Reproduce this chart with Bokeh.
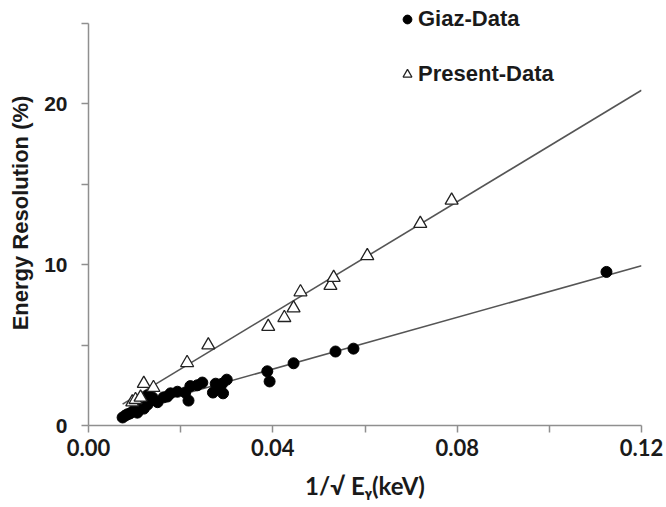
from bokeh.plotting import figure
from bokeh.models import (FixedTicker, NumeralTickFormatter, Range1d, Legend, LegendItem)
from bokeh.embed import file_html
from bokeh.resources import INLINE

# ---- data ----
giaz_x = [0.0074, 0.0080, 0.0085, 0.0090, 0.0098, 0.0106, 0.0113, 0.0120, 0.0128, 0.0128,
          0.0135, 0.0139, 0.0150, 0.0163, 0.0171, 0.0178, 0.0193, 0.0210, 0.0217, 0.0221,
          0.0236, 0.0247, 0.0270, 0.0276, 0.0283, 0.0290, 0.0292, 0.0300, 0.0388, 0.0393,
          0.0445, 0.0536, 0.0575, 0.1124]
giaz_y = [0.50, 0.62, 0.70, 0.75, 0.93, 0.80, 1.12, 1.05, 1.30, 1.86,
          1.55, 1.74, 1.45, 1.75, 1.80, 2.00, 2.10, 2.05, 1.55, 2.45,
          2.50, 2.67, 2.05, 2.60, 2.36, 2.60, 2.00, 2.85, 3.37, 2.74,
          3.87, 4.60, 4.78, 9.55]

present_x = [0.0095, 0.0102, 0.0113, 0.0120, 0.0141, 0.0214, 0.0260, 0.0390, 0.0425, 0.0445,
             0.0460, 0.0525, 0.0532, 0.0605, 0.0720, 0.0788]
present_y = [1.45, 1.60, 1.75, 2.60, 2.35, 3.90, 5.00, 6.15, 6.70, 7.30,
             8.30, 8.70, 9.20, 10.55, 12.55, 14.00]

fit_x = [0.0074, 0.12]
giaz_fit_y = [0.89, 9.94]
present_fit_y = [1.33, 20.85]

x_ticks = [0.0, 0.04, 0.08, 0.12]
x_minor_ticks = [0.02, 0.06, 0.10]
y_ticks = [0, 10, 20]
y_minor_ticks = [5, 15, 25]
y_axis_end = 25

x_label = "1/\u221a E\u1d67(keV)"
y_label = "Energy Resolution (%)"
series_names = ["Giaz-Data", "Present-Data"]

# ---- figure ----
# frame spans the full height above the x axis; the y axis itself is bounded to 0..25
p = figure(width=666, height=507, output_backend="svg", toolbar_location=None,
           x_range=Range1d(0, 0.12), y_range=Range1d(0, 26.43),
           min_border_left=88, min_border_right=25, min_border_top=0, min_border_bottom=82)
p.outline_line_color = None
p.xgrid.visible = False
p.ygrid.visible = False
p.background_fill_color = "white"
p.border_fill_color = "white"

axis_col = "#8f8f8f"
for ax in (p.xaxis[0], p.yaxis[0]):
    ax.axis_line_color = axis_col
    ax.axis_line_width = 1.5
    ax.major_tick_line_color = axis_col
    ax.minor_tick_line_color = axis_col
    ax.major_tick_line_width = 1.5
    ax.minor_tick_line_width = 1.5
    ax.major_tick_in = 0
    ax.minor_tick_in = 0
    ax.major_tick_out = 7
    ax.minor_tick_out = 7
    ax.major_label_text_color = "#1a1a1a"
    ax.axis_label_text_color = "#1a1a1a"
    ax.axis_label_text_font_style = "bold"
    ax.major_label_text_font_style = "bold"

p.xaxis.ticker = FixedTicker(ticks=x_ticks, minor_ticks=x_minor_ticks)
p.xaxis.formatter = NumeralTickFormatter(format="0.00")
p.xaxis.major_label_text_font = "Lato"
p.xaxis.major_label_text_font_size = "22px"
p.xaxis.major_label_standoff = 6
p.xaxis.axis_label = x_label
p.xaxis.axis_label_text_font = "Lato"
p.xaxis.axis_label_text_font_size = "24px"
p.xaxis.axis_label_standoff = 12

p.yaxis.bounds = (0, y_axis_end)
p.yaxis.ticker = FixedTicker(ticks=y_ticks, minor_ticks=y_minor_ticks)
p.yaxis.major_label_text_font = "Liberation Sans"
p.yaxis.major_label_text_font_size = "21px"
p.yaxis.major_label_standoff = 14
p.yaxis.axis_label = y_label
p.yaxis.axis_label_text_font = "Liberation Sans"
p.yaxis.axis_label_text_font_size = "22px"
p.yaxis.axis_label_standoff = 8

# fit lines
p.line(fit_x, present_fit_y, line_color="#555555", line_width=1.6)
p.line(fit_x, giaz_fit_y, line_color="#555555", line_width=1.6)

# data
r_g = p.scatter(giaz_x, giaz_y, marker="circle", size=11, fill_color="black", line_color="black")
r_p = p.scatter(present_x, present_y, marker="triangle", size=13, fill_color="white",
                line_color="#222222", line_width=1.3)

legend = Legend(items=[LegendItem(label=series_names[0], renderers=[r_g]),
                       LegendItem(label=series_names[1], renderers=[r_p])],
                location=(308, 338), orientation="vertical")
legend.border_line_color = None
legend.background_fill_alpha = 0
legend.padding = 0
legend.margin = 0
legend.glyph_width = 22
legend.glyph_height = 24
legend.label_height = 24
legend.spacing = 29
legend.label_standoff = 0
legend.label_text_font = "Liberation Sans"
legend.label_text_font_style = "bold"
legend.label_text_font_size = "22px"
legend.label_text_color = "#1a1a1a"
p.add_layout(legend, "center")

open("out.html", "w").write(file_html(p, INLINE))
